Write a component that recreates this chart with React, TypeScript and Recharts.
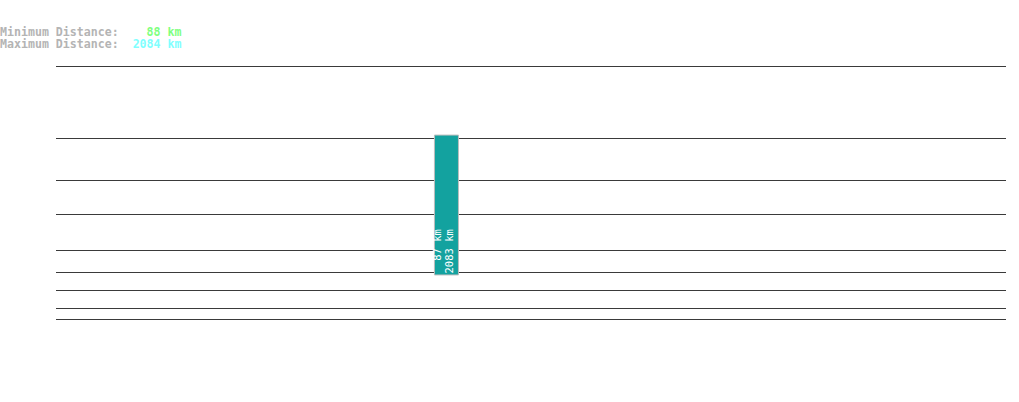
import React from 'react';
import { ComposedChart, Bar, XAxis, YAxis, ReferenceLine, LabelList } from 'recharts';

// Horizontal guide levels (km, log scale)
const gridLevels = [10000, 1940, 750, 340, 150, 91, 61, 41, 32];
// Bar position on the horizontal axis (0..100)
const barPositions = [41.1];
const minDistances = [87];
const maxDistances = [2083];
const summaryLabels = ['Minimum Distance:', 'Maximum Distance:'];
const summaryValues = [88, 2084];
const summaryColors = ['#80ff80', '#80ffff'];

const data = barPositions.map((x, i) => ({
  x,
  range: [minDistances[i], maxDistances[i]],
  min: minDistances[i],
  max: maxDistances[i],
}));

const MONO = '"DejaVu Sans Mono", "Liberation Mono", monospace';
const W = 1019;
const H = 402;
const MARGIN = { top: 66, right: 13, bottom: 83, left: 56 };

const BarLabels = (props: any) => {
  const { x, y, height, index } = props;
  const d = data[index];
  if (!d) return null;
  const bottom = Math.max(y, y + height);
  const yy = bottom - 1.5;
  const x1 = x + 7;
  const x2 = x + 19;
  const common = {
    fill: '#ffffff',
    fontFamily: MONO,
    fontSize: 10.5,
    style: { whiteSpace: 'pre' as const },
  };
  return (
    <g>
      <text x={x1} y={yy} transform={`rotate(-90, ${x1}, ${yy})`} {...common}>
        {String(d.min).padStart(4, ' ') + ' km'}
      </text>
      <text x={x2} y={yy} transform={`rotate(-90, ${x2}, ${yy})`} {...common}>
        {String(d.max).padStart(4, ' ') + ' km'}
      </text>
    </g>
  );
};

export default function App() {
  return (
    <div style={{ position: 'absolute', left: 0, top: 0, width: W, height: H, background: '#fff' }}>
      <svg width={W} height={60} style={{ position: 'absolute', left: 0, top: 0 }}>
        {summaryLabels.map((lab, i) => (
          <text
            key={lab}
            x={0}
            y={36 + i * 12}
            fontFamily={MONO}
            fontSize={11.6}
            fontWeight="bold"
            style={{ whiteSpace: 'pre' }}
          >
            <tspan fill="#b4b4b4">{lab}</tspan>
            <tspan fill={summaryColors[i]}>{String(summaryValues[i]).padStart(6, ' ') + ' km'}</tspan>
          </text>
        ))}
      </svg>
      {/* background layer: guide lines */}
      <div style={{ position: 'absolute', left: 0, top: 0 }}>
        <ComposedChart width={W} height={H} data={data} margin={MARGIN}>
          <XAxis type="number" dataKey="x" domain={[0, 100]} hide />
          <YAxis type="number" scale="log" domain={[32, 10000]} allowDataOverflow hide />
          {gridLevels.map((v) => (
            <ReferenceLine
              key={v}
              y={v}
              stroke="#3a3a3a"
              strokeWidth={1}
              shapeRendering="crispEdges"
            />
          ))}
        </ComposedChart>
      </div>
      {/* foreground layer: bar */}
      <div style={{ position: 'absolute', left: 0, top: 0 }}>
        <ComposedChart width={W} height={H} data={data} margin={MARGIN}>
          <XAxis type="number" dataKey="x" domain={[0, 100]} hide />
          <YAxis type="number" scale="log" domain={[32, 10000]} allowDataOverflow hide />
          <Bar
            dataKey="range"
            fill="#13a29f"
            stroke="#bdbdbd"
            strokeWidth={1}
            barSize={24}
            isAnimationActive={false}
          >
            <LabelList dataKey="range" content={<BarLabels />} />
          </Bar>
        </ComposedChart>
      </div>
    </div>
  );
}
